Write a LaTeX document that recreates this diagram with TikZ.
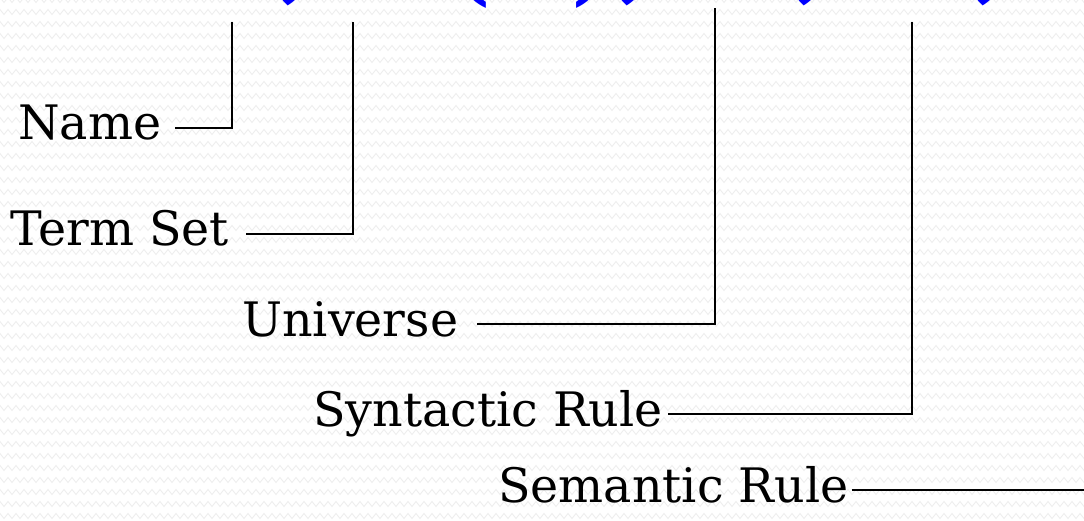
\documentclass[tikz,border=0pt]{standalone}
\usepackage{fontspec}
\setmainfont{DejaVu Serif}
\usetikzlibrary{decorations.pathmorphing}
\tikzset{
  label/.style={anchor=base west, inner sep=0pt, font=\fontsize{47.5}{52}\selectfont},
  formula/.style={anchor=base west, inner sep=0pt, text=blue, font=\fontsize{128}{140}\selectfont},
  link/.style={draw=black, line width=2pt},
  weave/.style={draw=black!7, line width=0.8pt, decorate,
    decoration={zigzag, segment length=8pt, amplitude=2.5pt}}
}
\begin{document}
\begin{tikzpicture}[x=1pt, y=-1pt]
  \useasboundingbox (0,0) rectangle (1084,521);
  \clip (0,0) rectangle (1084,521);
  \fill[white] (0,0) rectangle (1084,521);
  % faint woven backdrop
  \foreach \r in {0,12,...,528}
    \draw[weave] (-10,\r) -- (1094,\r);

  % quintuple heading, mostly above the page edge
  \node[formula] (quint) at (206,-11) {x, T(x), U, G, M};

  % component labels
  \node[label] (name) at (18,140) {Name};
  \node[label] (terms) at (10,246) {Term Set};
  \node[label] (univ) at (242,336) {Universe};
  \node[label] (syn) at (313,426) {Syntactic Rule};
  \node[label] (sem) at (498,502) {Semantic Rule};

  % upper ends of the connectors
  \coordinate (tname) at (232,22);
  \coordinate (tterms) at (353,22);
  \coordinate (tuniv) at (715,8);
  \coordinate (tsyn) at (912,22);
  \coordinate (tsem) at (1090,490);

  \draw[link] ([xshift=14pt,yshift=12pt]name.base east) -| (tname);
  \draw[link] ([xshift=17pt,yshift=12pt]terms.base east) -| (tterms);
  \draw[link] ([xshift=19pt,yshift=12pt]univ.base east) -| (tuniv);
  \draw[link] ([xshift=5pt,yshift=12pt]syn.base east) -| (tsyn);
  \draw[link] ([xshift=3pt,yshift=12pt]sem.base east) -- (tsem);
\end{tikzpicture}
\end{document}
